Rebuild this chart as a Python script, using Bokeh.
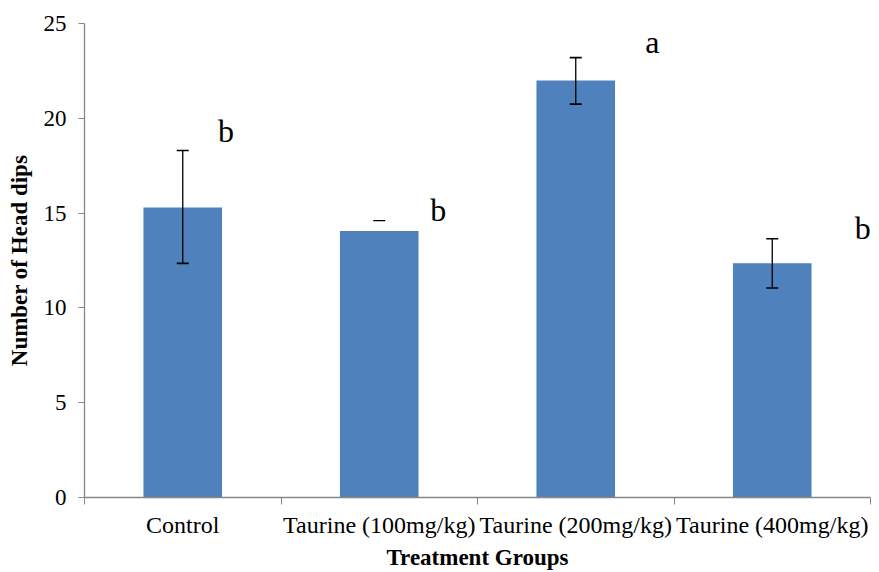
from bokeh.plotting import figure
from bokeh.models import ColumnDataSource, Whisker, TeeHead, FixedTicker, Range1d
from bokeh.core.properties import value
from bokeh.embed import file_html
from bokeh.resources import INLINE

# ---- data ----
categories = ["Control", "Taurine (100mg/kg)", "Taurine (200mg/kg)", "Taurine (400mg/kg)"]
means = [15.3, 14.05, 22.0, 12.35]
err_upper = [18.3, 14.6, 23.2, 13.65]
err_lower = [12.35, 14.05, 20.75, 11.05]
letters = ["b", "b", "a", "b"]
y_ticks = [0, 5, 10, 15, 20, 25]

# letter placement (annotation layout)
letter_dx = [0.22, 0.3, 0.39, 0.46]
letter_y = [19.35, 15.15, 24.0, 14.2]

SERIF = "Liberation Serif"
xs = [i + 0.5 for i in range(len(categories))]

p = figure(width=879, height=572, output_backend="svg", toolbar_location=None,
           x_range=Range1d(0, len(categories)), y_range=Range1d(0, 25),
           min_border_left=84, min_border_right=9, min_border_top=23,
           min_border_bottom=72)
p.outline_line_color = None
p.grid.visible = False
p.background_fill_color = "white"

src = ColumnDataSource(dict(x=xs, top=means, up=err_upper, lo=err_lower))
p.vbar(x="x", top="top", bottom=0, width=0.4, source=src,
       fill_color="#4F81BD", line_color=None)

# full error bars (all except the group whose lower part is hidden)
full_idx = [0, 2, 3]
src_full = ColumnDataSource(dict(x=[xs[i] for i in full_idx],
                                 up=[err_upper[i] for i in full_idx],
                                 lo=[err_lower[i] for i in full_idx]))
w = Whisker(base="x", upper="up", lower="lo", source=src_full, level="overlay",
            line_color="black", line_width=1.3,
            upper_head=TeeHead(size=12, line_color="black", line_width=1.6),
            lower_head=TeeHead(size=12, line_color="black", line_width=1.6))
p.add_layout(w)

# group 2: only the upper cap is visible
src_cap = ColumnDataSource(dict(x=[xs[1]], up=[err_upper[1]], lo=[err_lower[1]]))
w2 = Whisker(base="x", upper="up", lower="lo", source=src_cap, level="overlay",
             line_alpha=0,
             upper_head=TeeHead(size=12, line_color="black", line_width=1.3),
             lower_head=None)
p.add_layout(w2)

# significance letters
p.text(x=[xs[i] + letter_dx[i] for i in range(len(xs))], y=letter_y, text=letters,
       text_font=value(SERIF), text_font_size="32px", text_color="black",
       text_align="center", text_baseline="alphabetic")

# axes
p.xaxis.ticker = FixedTicker(ticks=xs, minor_ticks=list(range(len(categories) + 1)))
p.xaxis.major_label_overrides = {x: c for x, c in zip(xs, categories)}
p.xaxis.major_tick_out = 0
p.xaxis.major_tick_in = 0
p.xaxis.minor_tick_out = 7
p.xaxis.minor_tick_in = 0
p.xaxis.minor_tick_line_color = "#868686"
p.xaxis.axis_line_color = "#868686"
p.xaxis.axis_line_width = 1.3
p.xaxis.major_label_text_font = SERIF
p.xaxis.major_label_text_font_size = "24px"
p.xaxis.major_label_text_color = "black"
p.xaxis.major_label_standoff = 7
p.xaxis.axis_label = "Treatment Groups"
p.xaxis.axis_label_text_font = SERIF
p.xaxis.axis_label_text_font_style = "bold"
p.xaxis.axis_label_text_font_size = "23px"
p.xaxis.axis_label_text_color = "black"
p.xaxis.axis_label_standoff = 4

p.yaxis.ticker = FixedTicker(ticks=y_ticks, minor_ticks=[])
p.yaxis.major_tick_out = 6
p.yaxis.major_tick_in = 0
p.yaxis.major_tick_line_color = "#868686"
p.yaxis.axis_line_color = "#868686"
p.yaxis.axis_line_width = 1.3
p.yaxis.major_label_text_font = SERIF
p.yaxis.major_label_text_font_size = "23px"
p.yaxis.major_label_text_color = "black"
p.yaxis.major_label_standoff = 12
p.yaxis.axis_label = "Number of Head dips"
p.yaxis.axis_label_text_font = SERIF
p.yaxis.axis_label_text_font_style = "bold"
p.yaxis.axis_label_text_font_size = "23px"
p.yaxis.axis_label_text_color = "black"
p.yaxis.axis_label_standoff = 9

open("out.html", "w").write(file_html(p, INLINE))
